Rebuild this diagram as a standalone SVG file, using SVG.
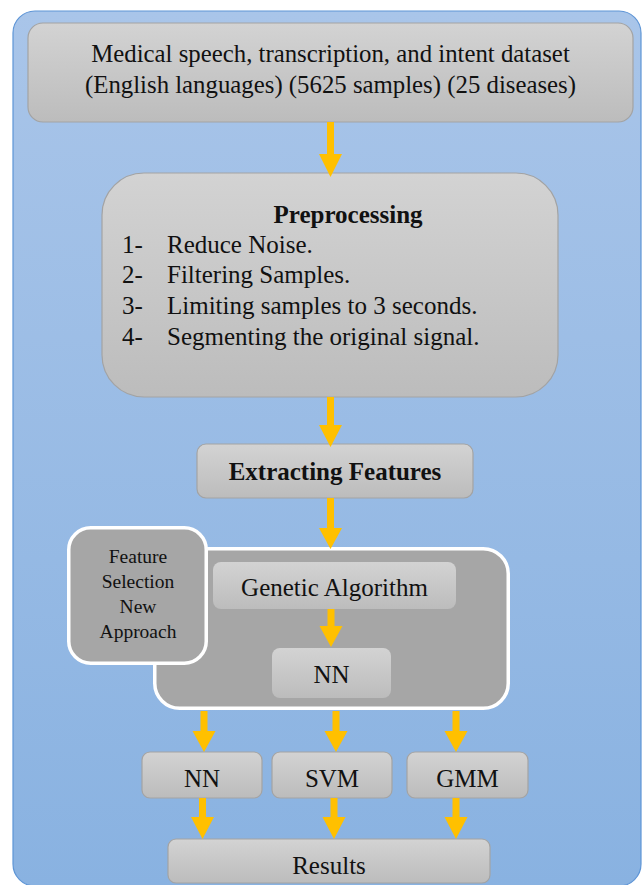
<svg xmlns="http://www.w3.org/2000/svg" width="642" height="885" viewBox="0 0 642 885">
<defs>
<linearGradient id="bg" x1="0" y1="0" x2="0" y2="1"><stop offset="0" stop-color="#A9C5E9"/><stop offset="1" stop-color="#89B2E1"/></linearGradient>
<linearGradient id="gb" x1="0" y1="0" x2="0" y2="1"><stop offset="0" stop-color="#D3D3D3"/><stop offset="1" stop-color="#BCBCBC"/></linearGradient>
<style>
.box{fill:url(#gb);stroke:#A3A3A3;stroke-width:1.2}
.inner{fill:url(#gb)}
.dark{fill:#A6A6A6;stroke:#FFFFFF;stroke-width:3.5}
.t{font-family:"Liberation Serif","Times New Roman",serif;font-size:25px;fill:#111}
.b{font-weight:bold}
.c{text-anchor:middle}
.s{font-size:19.5px}
.arr{fill:#FFC000}
</style>
</defs>
<rect x="13" y="11" width="628" height="875" rx="22" fill="url(#bg)" stroke="#5E95D6" stroke-width="1.2"/>
<g id="dataset">
<rect class="box" x="28" y="23" width="605" height="99" rx="15"/>
<text class="t c" x="330.5" y="62" style="font-size:24.8px">Medical speech, transcription, and intent dataset</text>
<text class="t c" x="330.5" y="93" style="font-size:24.8px">(English languages) (5625 samples) (25 diseases)</text>
</g>
<g id="preprocessing">
<rect class="box" x="102" y="173" width="456" height="224" rx="42"/>
<text class="t b c" x="348" y="223">Preprocessing</text>
<text class="t" x="122" y="253">1-</text><text class="t" x="167" y="253">Reduce Noise.</text>
<text class="t" x="122" y="283">2-</text><text class="t" x="167" y="283">Filtering Samples.</text>
<text class="t" x="122" y="314">3-</text><text class="t" x="167" y="314">Limiting samples to 3 seconds.</text>
<text class="t" x="122" y="345">4-</text><text class="t" x="167" y="345">Segmenting the original signal.</text>
</g>
<g id="extracting">
<rect class="box" x="197" y="444" width="276" height="54" rx="9"/>
<text class="t b c" x="335" y="480">Extracting Features</text>
</g>
<g id="fs-group">
<rect class="dark" x="154.75" y="548.75" width="353.5" height="159.5" rx="25"/>
</g>
<g id="feature-selection">
<rect class="dark" x="68.75" y="527.75" width="137.5" height="135.5" rx="22"/>
<text class="t c s" x="138" y="563">Feature</text>
<text class="t c s" x="138" y="588">Selection</text>
<text class="t c s" x="138" y="613">New</text>
<text class="t c s" x="138" y="638">Approach</text>
</g>
<g id="genetic">
<rect class="inner" x="213" y="562" width="243" height="47" rx="8"/>
<text class="t c" x="334.5" y="596">Genetic Algorithm</text>
</g>
<g id="nn-inner">
<rect class="inner" x="272" y="648" width="119" height="50" rx="8"/>
<text class="t c" x="331.5" y="683">NN</text>
</g>
<g id="nn">
<rect class="box" x="142" y="752" width="120" height="46" rx="8"/>
<text class="t c" x="202" y="787">NN</text>
</g>
<g id="svm">
<rect class="box" x="272" y="752" width="120" height="46" rx="8"/>
<text class="t c" x="332" y="787">SVM</text>
</g>
<g id="gmm">
<rect class="box" x="407" y="752" width="121" height="46" rx="8"/>
<text class="t c" x="467.5" y="787">GMM</text>
</g>
<g id="results">
<rect class="box" x="168" y="839" width="322" height="44" rx="8"/>
<text class="t c" x="329" y="874">Results</text>
</g>
<g id="connectors">
<polygon class="arr" points="327,122 334,122 334,154 342,154 330.5,177 319,154 327,154"/>
<polygon class="arr" points="327,397 334,397 334,425 342,425 330.5,447 319,425 327,425"/>
<polygon class="arr" points="327,498 334,498 334,528 342,528 330.5,549 319,528 327,528"/>
<polygon class="arr" points="327.5,609 334.5,609 334.5,626 342.5,626 331,647 319.5,626 327.5,626"/>
<polygon class="arr" points="200.5,711 207.5,711 207.5,731 215.5,731 204,752 192.5,731 200.5,731"/>
<polygon class="arr" points="332.5,711 339.5,711 339.5,731 347.5,731 336,752 324.5,731 332.5,731"/>
<polygon class="arr" points="452.5,711 459.5,711 459.5,731 467.5,731 456,752 444.5,731 452.5,731"/>
<polygon class="arr" points="199,798 206,798 206,817 214,817 202.5,839 191,817 199,817"/>
<polygon class="arr" points="330.5,798 337.5,798 337.5,817 345.5,817 334,839 322.5,817 330.5,817"/>
<polygon class="arr" points="452.5,798 459.5,798 459.5,817 467.5,817 456,839 444.5,817 452.5,817"/>
</g>
</svg>
